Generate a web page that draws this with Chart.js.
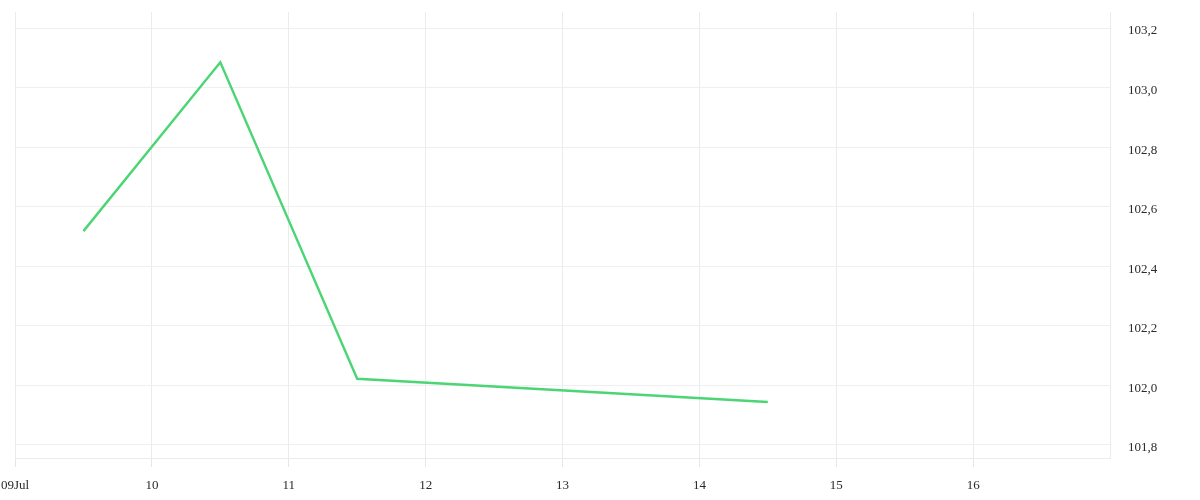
<!DOCTYPE html>
<html><head><meta charset="utf-8">
<script src="https://cdn.jsdelivr.net/npm/chart.js@4"></script>
<style>html,body{margin:0;padding:0;background:#fff}#wrap{width:1200px;height:500px}</style>
</head><body><div id="wrap"><canvas id="c"></canvas></div>
<script>
const dayPositions = [9.5, 10.5, 11.5, 14.5];
const values = [102.518, 103.085, 102.022, 101.944];
const xTickDays = [9, 10, 11, 12, 13, 14, 15, 16];
const xTickLabels = ['09Jul', '10', '11', '12', '13', '14', '15', '16'];
const yTicks = [101.8, 102.0, 102.2, 102.4, 102.6, 102.8, 103.0, 103.2];

const font = {family: '"Liberation Serif", serif', size: 13};
new Chart(document.getElementById('c'), {
  type: 'line',
  data: {datasets: [{
    data: dayPositions.map((d, i) => ({x: d, y: values[i]})),
    borderColor: '#4cd574', borderWidth: 2.4, pointRadius: 0, tension: 0, fill: false
  }]},
  options: {
    responsive: true, maintainAspectRatio: false, animation: false,
    layout: {padding: {left: 15, top: 12, right: 0, bottom: 0}},
    plugins: {legend: {display: false}, tooltip: {enabled: false}},
    scales: {
      x: {
        type: 'linear', min: 9, max: 17,
        afterBuildTicks: s => { s.ticks = xTickDays.map(v => ({value: v})); },
        afterFit: s => { s.height = 42; s.paddingLeft = 0; s.paddingRight = 0; },
        grid: {color: '#ebebeb', lineWidth: 1, drawTicks: true, tickLength: 9, tickColor: '#e6e6e6'},
        border: {display: true, color: '#ebebeb'},
        ticks: {font, color: '#2a2a2a', padding: 11, maxRotation: 0, autoSkip: false,
          callback: (v) => { const i = xTickDays.indexOf(v); return i >= 0 ? xTickLabels[i] : ''; }}
      },
      y: {
        type: 'linear', position: 'right', min: 101.756, max: 103.254,
        afterBuildTicks: s => { s.ticks = yTicks.map(v => ({value: v})); },
        afterFit: s => { s.width = 90; s.paddingTop = 0; s.paddingBottom = 0; },
        grid: {color: '#efefef', lineWidth: 1, drawTicks: false},
        border: {display: true, color: '#ebebeb'},
        ticks: {font, color: '#2a2a2a', padding: 18, labelOffset: 3,
          callback: v => v.toFixed(1).replace('.', ',')}
      }
    }
  }
});
</script></body></html>
